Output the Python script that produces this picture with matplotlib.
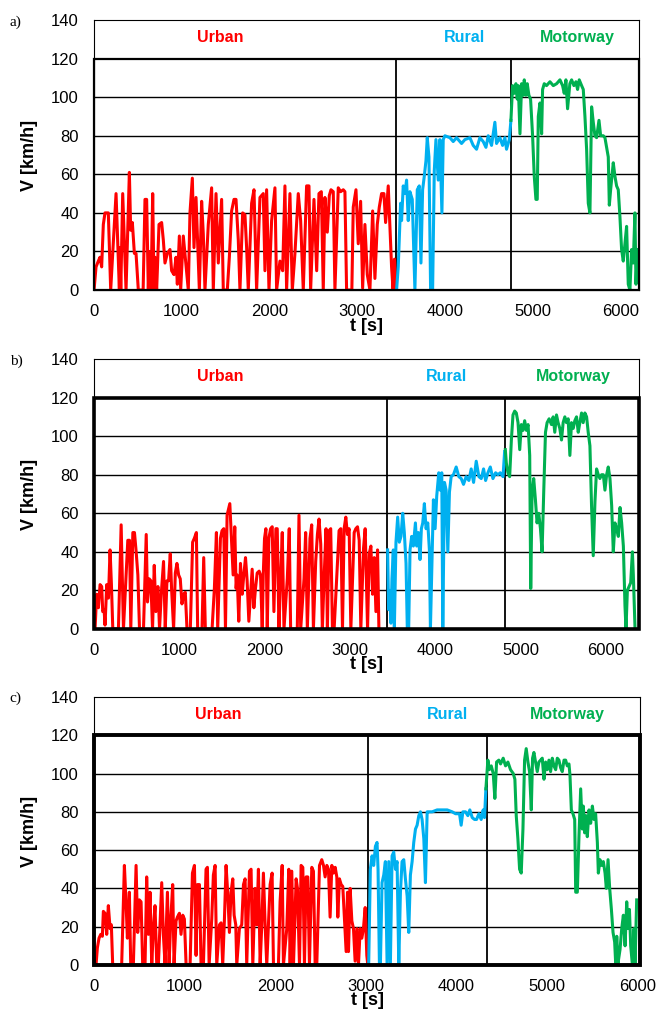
import matplotlib.pyplot as plt
from matplotlib.patches import Rectangle

plt.rcParams['font.family'] = ['Liberation Sans', 'DejaVu Sans']

# ── data: (t [s], V [km/h]) ───────────────────────────────────────────────────
urban_a = [(0, 0), (23, 12), (49, 15), (68, 17), (87, 12), (106, 34), (125, 40), (163, 40), (190, 0), (251, 50),
           (289, 0), (296, 22), (305, 0), (327, 50), (365, 0), (403, 61), (418, 31), (437, 35), (460, 19), (479, 19),
           (505, 0), (560, 0), (581, 47), (600, 47), (619, 0), (631, 20), (650, 0), (669, 50), (684, 0), (695, 17),
           (714, 0), (741, 34), (771, 35), (790, 26), (809, 14), (836, 19), (866, 21), (885, 10), (912, 8), (935, 17),
           (950, 3), (973, 28), (988, 0), (1018, 28), (1045, 15), (1075, 0), (1094, 40), (1121, 58), (1140, 22),
           (1163, 48), (1182, 24), (1201, 0), (1227, 46), (1246, 29), (1265, 0), (1303, 34), (1341, 53), (1360, 0),
           (1391, 50), (1417, 14), (1455, 47), (1474, 0), (1520, 0), (1543, 17), (1569, 41), (1596, 47), (1619, 47),
           (1645, 26), (1664, 0), (1695, 40), (1721, 39), (1740, 22), (1759, 0), (1797, 45), (1824, 52), (1854, 0),
           (1892, 48), (1930, 50), (1949, 10), (1968, 52), (1995, 0), (2025, 36), (2063, 53), (2082, 0), (2120, 15),
           (2151, 10), (2177, 54), (2196, 0), (2234, 50), (2261, 0), (2291, 19), (2329, 50), (2356, 36), (2386, 0),
           (2424, 54), (2451, 54), (2470, 0), (2508, 47), (2539, 10), (2565, 50), (2592, 51), (2614, 0), (2633, 48),
           (2660, 30), (2683, 49), (2702, 52), (2728, 51), (2747, 0), (2785, 53), (2812, 51), (2842, 52), (2861, 51),
           (2880, 0), (2940, 0), (2956, 43), (2987, 52), (3013, 24), (3040, 46), (3063, 1), (3089, 34), (3116, 8),
           (3146, 0), (3177, 41), (3203, 6), (3230, 34), (3253, 43), (3279, 50), (3306, 50), (3325, 35), (3355, 54),
           (3393, 12), (3410, 0), (3426, 16), (3440, 0)]
rural_a = [(3450, 0), (3469, 12), (3496, 45), (3507, 36), (3526, 54), (3545, 50), (3564, 57), (3583, 36), (3602, 51),
           (3629, 47), (3659, 0), (3686, 52), (3709, 54), (3728, 14), (3747, 52), (3766, 59), (3785, 67), (3800, 79),
           (3819, 69), (3838, 0), (3861, 0), (3880, 62), (3899, 78), (3925, 57), (3944, 78), (3967, 40), (3982, 78),
           (4001, 80), (4058, 79), (4096, 77), (4134, 79), (4191, 76), (4229, 78), (4286, 79), (4324, 75), (4362, 73),
           (4400, 79), (4438, 77), (4469, 74), (4495, 80), (4533, 75), (4571, 87), (4590, 76), (4628, 79), (4659, 75),
           (4685, 79), (4704, 73), (4735, 78), (4754, 88)]
motorway_a = [(4754, 88), (4773, 106), (4792, 102), (4811, 107), (4826, 99), (4838, 106), (4857, 81), (4876, 107),
              (4895, 101), (4906, 109), (4925, 101), (4940, 107), (4959, 101), (4978, 99), (5001, 80), (5020, 59),
              (5039, 47), (5054, 47), (5066, 90), (5085, 97), (5104, 81), (5115, 104), (5134, 107), (5160, 106),
              (5199, 108), (5237, 106), (5275, 107), (5313, 109), (5343, 106), (5362, 102), (5381, 109), (5400, 94),
              (5426, 107), (5446, 109), (5472, 106), (5495, 108), (5514, 104), (5533, 109), (5560, 106), (5579, 104),
              (5598, 90), (5617, 73), (5636, 45), (5655, 40), (5674, 95), (5693, 87), (5712, 80), (5731, 79),
              (5758, 88), (5777, 80), (5807, 80), (5826, 79), (5845, 74), (5864, 69), (5876, 44), (5891, 52),
              (5921, 66), (5940, 59), (5959, 54), (5978, 52), (5997, 38), (6016, 21), (6035, 15), (6054, 24),
              (6073, 33), (6092, 3), (6111, 0), (6130, 21), (6149, 14), (6168, 40), (6180, 3), (6195, 21)]

urban_b = [(0, 0), (12, 0), (31, 18), (51, 11), (71, 23), (90, 22), (102, 9), (118, 10), (129, 2), (149, 23),
           (169, 16), (188, 41), (204, 23), (220, 0), (286, 0), (318, 54), (345, 0), (376, 28), (396, 46), (416, 46),
           (431, 0), (455, 50), (474, 50), (494, 40), (514, 28), (533, 0), (580, 0), (612, 49), (627, 14), (647, 26),
           (666, 25), (686, 0), (706, 33), (725, 9), (749, 22), (768, 0), (788, 18), (815, 35), (835, 0), (855, 25),
           (874, 25), (894, 39), (909, 21), (933, 0), (953, 29), (972, 34), (992, 28), (1011, 26), (1031, 13),
           (1051, 18), (1070, 19), (1090, 0), (1129, 0), (1156, 45), (1176, 47), (1200, 50), (1215, 0), (1266, 0),
           (1286, 37), (1305, 0), (1384, 0), (1411, 21), (1435, 50), (1450, 0), (1482, 47), (1501, 51), (1521, 52),
           (1541, 0), (1560, 59), (1592, 65), (1611, 47), (1631, 28), (1650, 53), (1666, 21), (1678, 28), (1697, 4),
           (1717, 34), (1737, 18), (1756, 28), (1776, 37), (1795, 25), (1815, 4), (1835, 18), (1854, 31), (1874, 11),
           (1893, 21), (1913, 29), (1936, 30), (1952, 28), (1972, 0), (1984, 28), (1999, 47), (2015, 52), (2031, 0),
           (2050, 47), (2070, 52), (2089, 53), (2109, 9), (2132, 52), (2148, 52), (2168, 0), (2187, 26), (2207, 50),
           (2227, 0), (2266, 26), (2289, 52), (2305, 0), (2383, 0), (2403, 59), (2423, 0), (2462, 26), (2481, 50),
           (2501, 0), (2532, 47), (2552, 54), (2572, 0), (2599, 35), (2619, 49), (2638, 57), (2658, 44), (2677, 0),
           (2697, 26), (2720, 52), (2736, 0), (2756, 51), (2775, 52), (2795, 0), (2815, 0), (2873, 51), (2893, 52),
           (2913, 0), (2932, 52), (2952, 58), (2971, 49), (2991, 52), (3011, 0), (3050, 50), (3069, 52), (3089, 53),
           (3109, 46), (3128, 0), (3160, 42), (3179, 52), (3207, 0), (3226, 39), (3246, 43), (3266, 18), (3285, 37),
           (3305, 9), (3324, 41), (3340, 0)]
rural_b = [(3442, 41), (3454, 10), (3470, 20), (3481, 3), (3493, 26), (3509, 41), (3521, 0), (3540, 45), (3560, 58),
           (3579, 45), (3599, 48), (3619, 60), (3638, 50), (3658, 34), (3673, 0), (3689, 0), (3705, 41), (3724, 48),
           (3744, 43), (3768, 55), (3783, 43), (3803, 50), (3822, 36), (3838, 52), (3854, 55), (3873, 65), (3893, 52),
           (3913, 55), (3932, 41), (3944, 0), (3979, 67), (3999, 52), (4018, 69), (4042, 81), (4058, 72), (4077, 81),
           (4089, 0), (4109, 76), (4128, 72), (4148, 40), (4167, 71), (4187, 79), (4214, 80), (4246, 84), (4277, 79),
           (4305, 78), (4332, 75), (4363, 79), (4395, 77), (4422, 83), (4450, 76), (4481, 87), (4512, 79), (4540, 78),
           (4567, 83), (4591, 77), (4618, 81), (4646, 84), (4677, 78), (4708, 81), (4736, 80), (4763, 81), (4795, 79),
           (4814, 92)]
motorway_b = [(4822, 93), (4834, 86), (4853, 81), (4873, 79), (4893, 98), (4912, 111), (4932, 113), (4951, 112),
              (4971, 107), (4991, 93), (5010, 106), (5030, 103), (5049, 108), (5069, 103), (5089, 106), (5108, 90),
              (5120, 21), (5136, 71), (5155, 78), (5175, 67), (5194, 55), (5214, 60), (5234, 52), (5253, 40),
              (5273, 72), (5293, 102), (5312, 107), (5336, 109), (5363, 106), (5383, 110), (5402, 102), (5422, 111),
              (5441, 107), (5461, 104), (5481, 98), (5500, 107), (5520, 110), (5539, 107), (5559, 109), (5579, 90),
              (5598, 107), (5618, 104), (5637, 108), (5657, 110), (5677, 102), (5696, 107), (5716, 112), (5735, 107),
              (5755, 112), (5775, 110), (5794, 102), (5814, 95), (5833, 64), (5853, 38), (5873, 66), (5892, 83),
              (5912, 80), (5931, 78), (5951, 80), (5971, 80), (5990, 72), (6010, 80), (6029, 84), (6049, 78),
              (6069, 64), (6088, 40), (6108, 55), (6127, 52), (6147, 48), (6167, 63), (6186, 55), (6206, 43),
              (6225, 12), (6237, 0), (6253, 20), (6273, 22), (6292, 24), (6312, 40), (6323, 28), (6343, 0)]

urban_c = [(0, 0), (22, 0), (37, 9), (55, 14), (74, 16), (92, 15), (103, 28), (121, 27), (140, 16), (158, 31),
           (177, 19), (191, 21), (206, 0), (305, 0), (335, 52), (353, 33), (368, 14), (390, 38), (405, 0), (434, 0),
           (464, 52), (482, 17), (500, 34), (519, 33), (537, 0), (563, 0), (581, 46), (600, 16), (618, 38), (637, 0),
           (655, 19), (673, 31), (692, 0), (710, 0), (747, 43), (765, 16), (784, 0), (810, 38), (828, 0), (846, 23),
           (868, 42), (883, 0), (905, 23), (920, 25), (942, 27), (960, 16), (979, 26), (997, 24), (1016, 0),
           (1060, 0), (1086, 48), (1108, 52), (1126, 5), (1141, 42), (1163, 42), (1181, 0), (1207, 0), (1236, 50),
           (1251, 51), (1270, 0), (1299, 24), (1317, 47), (1336, 52), (1354, 0), (1384, 21), (1402, 22), (1420, 0),
           (1439, 24), (1457, 52), (1476, 37), (1494, 17), (1512, 38), (1531, 45), (1546, 26), (1564, 21), (1575, 0),
           (1604, 19), (1630, 21), (1649, 42), (1667, 45), (1685, 0), (1715, 49), (1733, 50), (1752, 0), (1777, 40),
           (1796, 21), (1814, 50), (1833, 0), (1851, 21), (1869, 48), (1888, 21), (1906, 0), (1943, 42), (1965, 48),
           (1980, 0), (2035, 0), (2053, 33), (2076, 52), (2090, 0), (2127, 19), (2149, 50), (2164, 0), (2182, 49),
           (2201, 0), (2230, 45), (2245, 40), (2267, 0), (2285, 52), (2304, 51), (2322, 0), (2340, 46), (2359, 46),
           (2377, 0), (2403, 51), (2421, 49), (2440, 0), (2458, 0), (2488, 52), (2513, 55), (2532, 52), (2550, 46),
           (2569, 52), (2587, 50), (2605, 25), (2624, 52), (2642, 48), (2661, 51), (2679, 46), (2690, 25),
           (2708, 45), (2727, 42), (2745, 41), (2764, 23), (2782, 7), (2797, 38), (2808, 7), (2826, 40), (2845, 23),
           (2863, 19), (2881, 2), (2900, 19), (2918, 0), (2937, 19), (2955, 14), (2973, 19), (2992, 30), (3010, 5),
           (3021, 0)]
rural_c = [(3031, 1), (3049, 50), (3068, 57), (3086, 52), (3105, 62), (3123, 64), (3134, 50), (3149, 1), (3160, 0),
           (3178, 43), (3197, 47), (3215, 54), (3234, 0), (3252, 54), (3270, 0), (3289, 57), (3307, 59), (3326, 50),
           (3344, 54), (3363, 0), (3381, 38), (3399, 54), (3418, 55), (3436, 45), (3455, 36), (3473, 17), (3491, 47),
           (3510, 54), (3528, 64), (3547, 71), (3565, 73), (3584, 78), (3602, 80), (3620, 76), (3639, 66), (3657, 43),
           (3676, 80), (3694, 80), (3731, 80), (3786, 81), (3841, 81), (3897, 81), (3952, 80), (3989, 79), (4007, 79),
           (4033, 79), (4051, 73), (4070, 80), (4099, 80), (4125, 78), (4147, 81), (4173, 77), (4199, 76), (4221, 76),
           (4247, 79), (4272, 76), (4294, 81), (4309, 77), (4324, 92)]
motorway_c = [(4324, 92), (4346, 107), (4361, 102), (4383, 104), (4405, 100), (4423, 87), (4442, 106), (4467, 107),
              (4486, 105), (4515, 108), (4541, 104), (4567, 106), (4596, 102), (4626, 100), (4644, 97), (4659, 78),
              (4677, 66), (4696, 50), (4714, 48), (4733, 71), (4751, 107), (4769, 113), (4788, 106), (4806, 101),
              (4825, 81), (4839, 108), (4854, 111), (4872, 106), (4891, 101), (4909, 106), (4928, 107), (4946, 108),
              (4965, 97), (4983, 106), (5001, 102), (5020, 107), (5038, 101), (5057, 108), (5075, 104), (5094, 102),
              (5112, 108), (5130, 107), (5149, 103), (5167, 101), (5186, 107), (5204, 107), (5222, 104), (5241, 105),
              (5252, 99), (5267, 81), (5285, 79), (5304, 76), (5315, 38), (5333, 38), (5351, 67), (5370, 92),
              (5388, 71), (5399, 83), (5414, 69), (5429, 78), (5443, 67), (5462, 81), (5480, 74), (5499, 83),
              (5517, 76), (5535, 79), (5554, 64), (5565, 48), (5583, 55), (5602, 52), (5620, 54), (5639, 48),
              (5653, 40), (5672, 55), (5690, 40), (5709, 29), (5727, 17), (5745, 12), (5757, 0), (5768, 15),
              (5782, 1), (5804, 8), (5823, 19), (5841, 26), (5860, 10), (5878, 33), (5893, 19), (5908, 29),
              (5922, 10), (5941, 0), (5959, 19), (5970, 1), (5988, 34)]

panel_names = ['a)', 'b)', 'c)']
section_names = ['Urban', 'Rural', 'Motorway']
boundaries = [(3440, 4750), (3430, 4822), (3020, 4331)]
label_t = [(1436, 4229, 5506), (1482, 4128, 5621), (1370, 3900, 5227)]
x_max = [6215, 6390, 6025]

section_colors = ['#FF0000', '#00B0F0', '#00B050']

# ── layout ────────────────────────────────────────────────────────────────────
fig = plt.figure(figsize=(6.58, 10.13), dpi=100)
ax_rects = [
    [0.1429, 0.7137, 0.8283, 0.2665],
    [0.1429, 0.3791, 0.8283, 0.2665],
    [0.1429, 0.0474, 0.8298, 0.2646],
]
frame_lw = [1.6, 2.6, 2.8]
label_y = [0.985, 0.650, 0.317]

traces = [(urban_a, rural_a, motorway_a),
          (urban_b, rural_b, motorway_b),
          (urban_c, rural_c, motorway_c)]

for i in range(3):
    ax = fig.add_axes(ax_rects[i])
    ax.set_xlim(0, x_max[i])
    ax.set_ylim(0, 140)
    ax.set_xticks(range(0, int(x_max[i]) + 1, 1000))
    ax.set_yticks(range(0, 141, 20))
    ax.tick_params(length=0, labelsize=12, colors='black')
    ax.tick_params(axis='x', pad=10)
    ax.tick_params(axis='y', pad=11)
    for sp in ax.spines.values():
        sp.set_linewidth(0.8)
        sp.set_color('black')

    for y in range(20, 120, 20):
        ax.axhline(y, color='black', lw=1.0, zorder=1)
    ax.add_patch(Rectangle((0, 0), x_max[i], 120, fill=False, ec='black',
                           lw=frame_lw[i], zorder=5, clip_on=False))
    for b in boundaries[i]:
        ax.plot([b, b], [0, 120], color='black', lw=1.3, zorder=2)

    for seg, col in zip(traces[i], section_colors):
        t = [p[0] for p in seg]
        v = [p[1] for p in seg]
        ax.plot(t, v, color=col, lw=2.2, zorder=3, solid_joinstyle='round')

    for name, tx, col in zip(section_names, label_t[i], section_colors):
        ax.text(tx, 131, name, color=col, fontsize=11.5, fontweight='bold',
                ha='center', va='center',
                family=['Liberation Sans Narrow', 'Liberation Sans'])

    ax.set_xlabel('t [s]', fontsize=13, fontweight='bold', labelpad=-1)
    ax.set_ylabel('V [km/h]', fontsize=13, fontweight='bold', labelpad=9)

    fig.text(0.015, label_y[i], panel_names[i], fontsize=11,
             family=['Liberation Serif', 'DejaVu Serif'], va='top')

fig.savefig('out.png', dpi=100)
